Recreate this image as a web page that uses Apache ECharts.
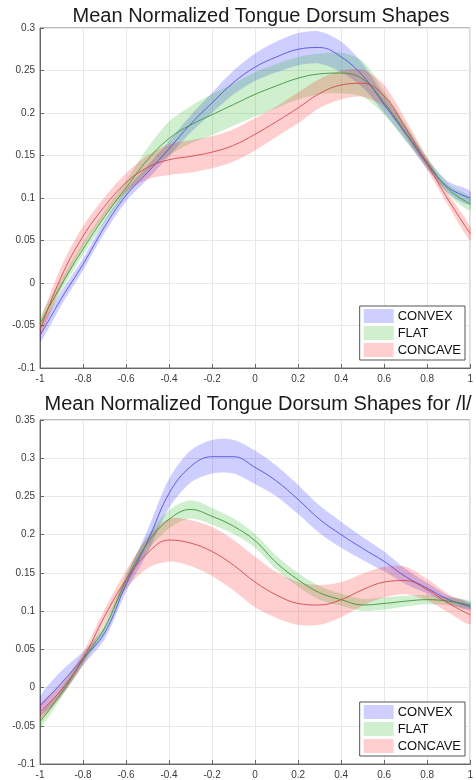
<!DOCTYPE html>
<html>
<head>
<meta charset="utf-8">
<script src="https://cdn.jsdelivr.net/npm/echarts@6/dist/echarts.min.js"></script>
<style>
html,body{margin:0;padding:0;background:#fff;}
#chart{width:476px;height:780px;}
</style>
</head>
<body>
<div id="chart"></div>
<script>
// ---- data ----
const xs = [-1,-0.9,-0.8,-0.7,-0.6,-0.5,-0.4,-0.3,-0.2,-0.1,0,0.1,0.2,0.3,0.4,0.5,0.6,0.7,0.8,0.9,1];
const groups = ['CONVEX','FLAT','CONCAVE'];
const titleTop = 'Mean Normalized Tongue Dorsum Shapes';
const titleBottom = 'Mean Normalized Tongue Dorsum Shapes for /l/';

// top chart: means and band half-widths
const topConvexMean   = [-0.062,-0.018,0.022,0.066,0.103,0.130,0.158,0.187,0.212,0.236,0.254,0.266,0.275,0.277,0.266,0.244,0.210,0.176,0.140,0.112,0.100];
const topConvexSpread = [0.008,0.008,0.007,0.007,0.007,0.008,0.009,0.010,0.012,0.014,0.016,0.018,0.019,0.019,0.018,0.014,0.010,0.008,0.006,0.007,0.008];
const topFlatMean     = [-0.048,-0.002,0.040,0.078,0.112,0.145,0.170,0.186,0.198,0.210,0.222,0.232,0.241,0.246,0.247,0.240,0.212,0.177,0.142,0.110,0.093];
const topFlatSpread   = [0.007,0.007,0.007,0.007,0.008,0.014,0.020,0.022,0.024,0.025,0.026,0.026,0.025,0.024,0.024,0.021,0.014,0.010,0.006,0.006,0.008];
const topConcaveMean  = [-0.055,0.008,0.055,0.090,0.118,0.136,0.145,0.149,0.154,0.162,0.175,0.190,0.206,0.223,0.233,0.235,0.220,0.182,0.140,0.097,0.058];
const topConcaveSpread= [0.008,0.012,0.012,0.011,0.011,0.014,0.018,0.019,0.019,0.019,0.019,0.018,0.018,0.017,0.017,0.016,0.013,0.010,0.007,0.007,0.008];

// bottom chart (/l/)
const botConvexMean   = [-0.024,0.006,0.038,0.071,0.135,0.191,0.254,0.289,0.302,0.302,0.288,0.270,0.246,0.220,0.200,0.182,0.165,0.145,0.130,0.115,0.106];
const botConvexSpread = [0.012,0.016,0.009,0.008,0.010,0.015,0.019,0.021,0.022,0.022,0.022,0.020,0.019,0.018,0.017,0.015,0.013,0.010,0.007,0.005,0.005];
const botFlatMean     = [-0.045,-0.007,0.036,0.078,0.140,0.189,0.220,0.233,0.224,0.211,0.192,0.163,0.141,0.124,0.115,0.108,0.110,0.113,0.115,0.113,0.108];
const botFlatSpread   = [0.008,0.006,0.006,0.006,0.008,0.010,0.012,0.012,0.011,0.010,0.009,0.009,0.009,0.009,0.008,0.008,0.008,0.007,0.006,0.005,0.005];
const botConcaveMean  = [-0.032,-0.003,0.038,0.093,0.141,0.176,0.193,0.189,0.178,0.160,0.138,0.121,0.110,0.108,0.115,0.128,0.138,0.140,0.128,0.110,0.095];
const botConcaveSpread= [0.010,0.008,0.008,0.009,0.012,0.020,0.028,0.030,0.032,0.033,0.033,0.030,0.028,0.026,0.023,0.021,0.020,0.018,0.014,0.012,0.012];

const fills = ['rgba(0,0,255,0.19)','rgba(0,170,0,0.19)','rgba(255,0,0,0.19)'];
const lines = ['#5050e0','#3c963c','#d04848'];
const FONT = '"Liberation Sans", Arial, Helvetica, sans-serif';

function bandSeries(gi, mean, spread, axisIdx){
  const band = xs.map((x,i)=>[x, mean[i]-spread[i], mean[i]+spread[i]]);
  const md = xs.map((x,i)=>[x, mean[i]]);
  return [
    {type:'custom', name:groups[gi], data:band, xAxisIndex:axisIdx, yAxisIndex:axisIdx,
     encode:{x:0, y:[1,2]}, clip:true, silent:true, z:2,
     itemStyle:{color:fills[gi]},
     renderItem:function(params, api){
       if (params.dataIndex !== 0) return null;
       const upper = band.map(d=>api.coord([d[0], d[2]]));
       const lower = band.slice().reverse().map(d=>api.coord([d[0], d[1]]));
       return {type:'polygon', shape:{points:upper.concat(lower), smooth:0.3},
               style:{fill:fills[gi], stroke:null}};
     }},
    {type:'line', name:groups[gi]+'_mean'+axisIdx, data:md, smooth:0.4,
     xAxisIndex:axisIdx, yAxisIndex:axisIdx, symbol:'none', silent:true,
     lineStyle:{color:lines[gi], width:0.9}, z:3}
  ];
}

const series = [].concat(
  bandSeries(0, topConvexMean, topConvexSpread, 0),
  bandSeries(1, topFlatMean, topFlatSpread, 0),
  bandSeries(2, topConcaveMean, topConcaveSpread, 0),
  bandSeries(0, botConvexMean, botConvexSpread, 1),
  bandSeries(1, botFlatMean, botFlatSpread, 1),
  bandSeries(2, botConcaveMean, botConcaveSpread, 1)
);

function xAx(gi){
  return {type:'value', gridIndex:gi, min:-1, max:1, interval:0.2,
    axisLine:{show:true, onZero:false, lineStyle:{color:'#666', width:1}},
    axisTick:{show:true, inside:true, length:4, lineStyle:{color:'#666'}},
    splitLine:{show:true, lineStyle:{color:'#e8e8e8', width:1}},
    axisLabel:{color:'#3a3a3a', fontSize:10, fontFamily:FONT, margin:6,
      formatter:v=>{const r=Math.round(v*10)/10; return String(r);}}};
}
function yAx(gi, min, max){
  return {type:'value', gridIndex:gi, min:min, max:max, interval:0.05,
    axisLine:{show:true, onZero:false, lineStyle:{color:'#666', width:1}},
    axisTick:{show:true, inside:true, length:4, lineStyle:{color:'#666'}},
    splitLine:{show:true, lineStyle:{color:'#e8e8e8', width:1}},
    axisLabel:{color:'#3a3a3a', fontSize:10, fontFamily:FONT, margin:5,
      formatter:v=>{const r=Math.round(v*100)/100; return String(r);}}};
}
function legend(top){
  return {orient:'vertical', right:11, top:top, icon:'rect', itemWidth:30, itemHeight:14, itemGap:3,
    backgroundColor:'#fff', borderColor:'#555', borderWidth:1, borderRadius:0, padding:[3,4,3,4],
    selectedMode:false,
    textStyle:{color:'#111', fontSize:13, fontFamily:FONT, padding:[0,0,0,-1]},
    data:groups.map((g,i)=>({name:g, itemStyle:{color:fills[i]}}))};
}

const chart = echarts.init(document.getElementById('chart'), null, {renderer:'canvas'});
chart.setOption({
  animation:false,
  backgroundColor:'#fff',
  title:[
    {text:titleTop, left:256, textAlign:'center', top:1,
     textStyle:{fontSize:20, fontWeight:'normal', color:'#1a1a1a', fontFamily:FONT}},
    {text:titleBottom, left:253, textAlign:'center', top:389,
     textStyle:{fontSize:20, fontWeight:'normal', color:'#1a1a1a', fontFamily:FONT}}
  ],
  grid:[
    {left:40, right:3, top:28, height:340, show:true, borderColor:'#777', borderWidth:1, backgroundColor:'#fff'},
    {left:40, right:3, top:420, height:344, show:true, borderColor:'#777', borderWidth:1, backgroundColor:'#fff'}
  ],
  xAxis:[xAx(0), xAx(1)],
  yAxis:[yAx(0,-0.1,0.3), yAx(1,-0.1,0.35)],
  legend:[legend(306), legend(702)],
  series:series
});
</script>
</body>
</html>
